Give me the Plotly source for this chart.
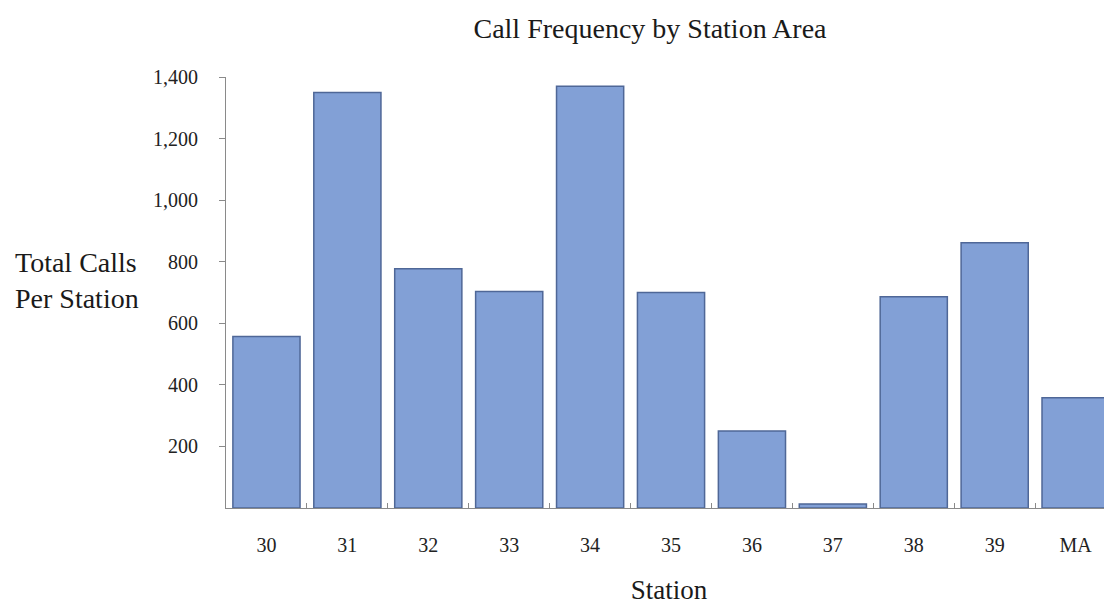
import plotly.graph_objects as go

stations = ["30", "31", "32", "33", "34", "35", "36", "37", "38", "39", "MA"]
total_calls = [557, 1350, 777, 703, 1370, 700, 250, 13, 686, 862, 358]
y_ticks = [200, 400, 600, 800, 1000, 1200, 1400]
y_tick_labels = ["200", "400", "600", "800", "1,000", "1,200", "1,400"]

FONT = "Liberation Serif"

W, H = 1104, 597
L, T, B = 218, 69, 97
PH = H - T - B

fig = go.Figure()
fig.add_trace(go.Bar(
    x=stations,
    y=total_calls,
    marker=dict(color="#82a0d6", line=dict(color="#4f6797", width=1.5)),
    hoverinfo="x+y",
))

fig.update_layout(
    width=W,
    height=H,
    margin=dict(l=L, r=0, t=T, b=B),
    paper_bgcolor="white",
    plot_bgcolor="white",
    bargap=0.17,
    showlegend=False,
    font=dict(family=FONT, color="#222222"),
    title=dict(
        text="Call Frequency by Station Area",
        x=642 / W, xanchor="center", y=1 - 20 / H, yanchor="middle",
        font=dict(family=FONT, size=28, color="#1a1a1a"),
    ),
    xaxis=dict(
        range=[-0.5, 10.45],
        showline=True, linecolor="#8a8a8a", linewidth=1,
        ticks="inside", tickson="boundaries", ticklen=5, tickcolor="#8a8a8a",
        tickfont=dict(family=FONT, size=20, color="#222222"),
        ticklabelstandoff=19,
        showgrid=False, zeroline=False,
        title=dict(text="Station", font=dict(family=FONT, size=27, color="#1a1a1a"), standoff=26),
    ),
    yaxis=dict(
        range=[0, 1400],
        showline=True, linecolor="#8a8a8a", linewidth=1,
        ticks="outside", ticklen=6, tickcolor="#8a8a8a",
        tickvals=y_ticks, ticktext=y_tick_labels,
        tickfont=dict(family=FONT, size=20, color="#222222"),
        ticklabelstandoff=17,
        showgrid=False, zeroline=False,
    ),
)

fig.add_annotation(
    text="Total Calls<br>Per Station",
    xref="paper", yref="paper",
    x=-L / (W - L), xanchor="left",
    y=(500 - 272) / PH, yanchor="middle",
    align="left", showarrow=False,
    xshift=5,
    font=dict(family=FONT, size=28, color="#1a1a1a"),
)

fig.write_html("out.html")
